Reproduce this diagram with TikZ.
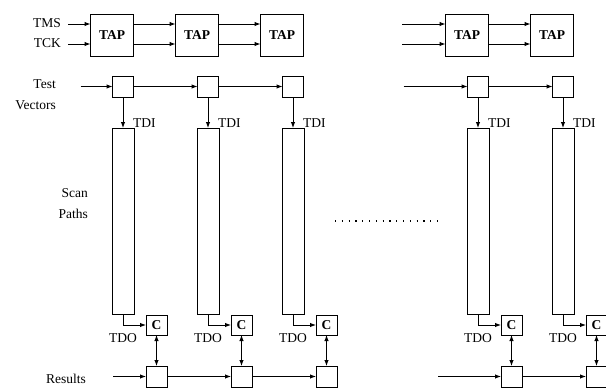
\documentclass[tikz,border=0pt]{standalone}
\usepackage{fontspec}
\setmainfont{Liberation Serif}
\usetikzlibrary{arrows.meta,positioning}
\newcommand{\diagfont}{\fontsize{13.5}{21}\selectfont}
\tikzset{
  tapbox/.style={rectangle, draw, line width=1pt, outer sep=0pt, minimum width=43pt, minimum height=42pt, inner sep=0pt, font=\diagfont\bfseries},
  regbox/.style={rectangle, draw, line width=1pt, outer sep=0pt, minimum width=21pt, minimum height=21pt, inner sep=0pt},
  scanbox/.style={rectangle, draw, line width=1pt, outer sep=0pt, minimum width=22pt, minimum height=186pt, inner sep=0pt},
  chkbox/.style={rectangle, draw, line width=1pt, outer sep=0pt, minimum width=21pt, minimum height=20pt, inner sep=0pt, font=\diagfont\bfseries},
  lbl/.style={inner sep=0pt, align=right, font=\diagfont},
  arrow/.style={-{Latex[length=6pt,width=4.5pt]}, line width=1pt},
  dblarrow/.style={{Latex[length=6pt,width=4.5pt]}-{Latex[length=6pt,width=4.5pt]}, line width=1pt}
}
\begin{document}
\begin{tikzpicture}[x=1pt, y=-1pt]
\useasboundingbox (0,0) rectangle (606,388);
\clip (0,0) rectangle (606,388);
% TAP controllers
\node[tapbox] (tap1) at (112,35) {TAP};
\node[tapbox] (tap2) at (197,35) {TAP};
\node[tapbox] (tap3) at (282,35) {TAP};
\node[tapbox] (tap4) at (467,35) {TAP};
\node[tapbox] (tap5) at (552,35) {TAP};
% test vector registers, scan paths, compare and result cells
\node[regbox, below left=20pt and 0pt of tap1.south east] (tv1) {};
\node[regbox, below left=20pt and 0pt of tap2.south east] (tv2) {};
\node[regbox, below left=20pt and 0pt of tap3.south east] (tv3) {};
\node[regbox, below left=20pt and 0pt of tap4.south east] (tv4) {};
\node[regbox, below left=20pt and 0pt of tap5.south east] (tv5) {};
\node[scanbox, below=31pt of tv1] (scan1) {};
\node[scanbox, below=31pt of tv2] (scan2) {};
\node[scanbox, below=31pt of tv3] (scan3) {};
\node[scanbox, below=31pt of tv4] (scan4) {};
\node[scanbox, below=31pt of tv5] (scan5) {};
\node[chkbox, below right=1pt and 12pt of scan1] (chk1) {C};
\node[chkbox, below right=1pt and 12pt of scan2] (chk2) {C};
\node[chkbox, below right=1pt and 12pt of scan3] (chk3) {C};
\node[chkbox, below right=1pt and 12pt of scan4] (chk4) {C};
\node[chkbox, below right=1pt and 12pt of scan5] (chk5) {C};
\node[regbox, below=31pt of chk1] (res1) {};
\node[regbox, below=31pt of chk2] (res2) {};
\node[regbox, below=31pt of chk3] (res3) {};
\node[regbox, below=31pt of chk4] (res4) {};
\node[regbox, below=31pt of chk5] (res5) {};
% labels
\node[lbl, anchor=east] (tmslbl) at (61,23) {TMS};
\node[lbl, anchor=east] (tcklbl) at (61,43) {TCK};
\node[lbl, anchor=east] (tvlbl) at (56,95) {Test\\Vectors};
\node[lbl, anchor=east] (scanlbl) at (88,204) {Scan\\Paths};
\node[lbl, anchor=east] (reslbl) at (86,379) {Results};
\node[lbl, anchor=base west] (tdi1) at ([xshift=-1pt,yshift=1pt]scan1.north east) {TDI};
\node[lbl, anchor=base west] (tdi2) at ([xshift=-1pt,yshift=1pt]scan2.north east) {TDI};
\node[lbl, anchor=base west] (tdi3) at ([xshift=-1pt,yshift=1pt]scan3.north east) {TDI};
\node[lbl, anchor=base west] (tdi4) at ([xshift=-1pt,yshift=1pt]scan4.north east) {TDI};
\node[lbl, anchor=base west] (tdi5) at ([xshift=-1pt,yshift=1pt]scan5.north east) {TDI};
\node[lbl, anchor=base east] (tdo1) at ([xshift=-9pt,yshift=-7pt]chk1.south west) {TDO};
\node[lbl, anchor=base east] (tdo2) at ([xshift=-9pt,yshift=-7pt]chk2.south west) {TDO};
\node[lbl, anchor=base east] (tdo3) at ([xshift=-9pt,yshift=-7pt]chk3.south west) {TDO};
\node[lbl, anchor=base east] (tdo4) at ([xshift=-9pt,yshift=-7pt]chk4.south west) {TDO};
\node[lbl, anchor=base east] (tdo5) at ([xshift=-9pt,yshift=-7pt]chk5.south west) {TDO};
% free ends of the input lines
\coordinate (tmsin) at (68,24); \coordinate (tckin) at (68,44);
\coordinate (tmsin2) at (402,24); \coordinate (tckin2) at (402,44);
\coordinate (tvin) at ([xshift=-32pt]tv1.west); \coordinate (tvin2) at ([xshift=-64pt]tv4.west);
\coordinate (resin) at ([xshift=-33pt]res1.west); \coordinate (resin2) at ([xshift=-63pt]res4.west);
% TAP chain
\draw[arrow] (tmsin)--(tmsin -| tap1.west); \draw[arrow] (tckin)--(tckin -| tap1.west);
\draw[arrow] (tmsin -| tap1.east)--(tmsin -| tap2.west); \draw[arrow] (tckin -| tap1.east)--(tckin -| tap2.west);
\draw[arrow] (tmsin -| tap2.east)--(tmsin -| tap3.west); \draw[arrow] (tckin -| tap2.east)--(tckin -| tap3.west);
\draw[arrow] (tmsin2)--(tmsin2 -| tap4.west); \draw[arrow] (tckin2)--(tckin2 -| tap4.west);
\draw[arrow] (tmsin2 -| tap4.east)--(tmsin2 -| tap5.west); \draw[arrow] (tckin2 -| tap4.east)--(tckin2 -| tap5.west);
% test vectors
\draw[arrow] (tvin)--(tv1); \draw[arrow] (tv1)--(tv2); \draw[arrow] (tv2)--(tv3);
\draw[arrow] (tvin2)--(tv4); \draw[arrow] (tv4)--(tv5);
\draw[arrow] (tv1)--(scan1); \draw[arrow] (tv2)--(scan2); \draw[arrow] (tv3)--(scan3);
\draw[arrow] (tv4)--(scan4); \draw[arrow] (tv5)--(scan5);
% scan outputs into compare cells
\draw[arrow] (scan1.south) |- (chk1.west); \draw[arrow] (scan2.south) |- (chk2.west); \draw[arrow] (scan3.south) |- (chk3.west);
\draw[arrow] (scan4.south) |- (chk4.west); \draw[arrow] (scan5.south) |- (chk5.west);
\draw[dblarrow] (chk1)--(res1); \draw[dblarrow] (chk2)--(res2); \draw[dblarrow] (chk3)--(res3);
\draw[dblarrow] (chk4)--(res4); \draw[dblarrow] (chk5)--(res5);
% results chain
\draw[arrow] (resin)--(res1); \draw[arrow] (res1)--(res2); \draw[arrow] (res2)--(res3);
\draw[arrow] (resin2)--(res4); \draw[arrow] (res4)--(res5);
\draw[line width=1.2pt, dash pattern=on 1.2pt off 5.6pt] (335,221)--(438,221);
\end{tikzpicture}
\end{document}
